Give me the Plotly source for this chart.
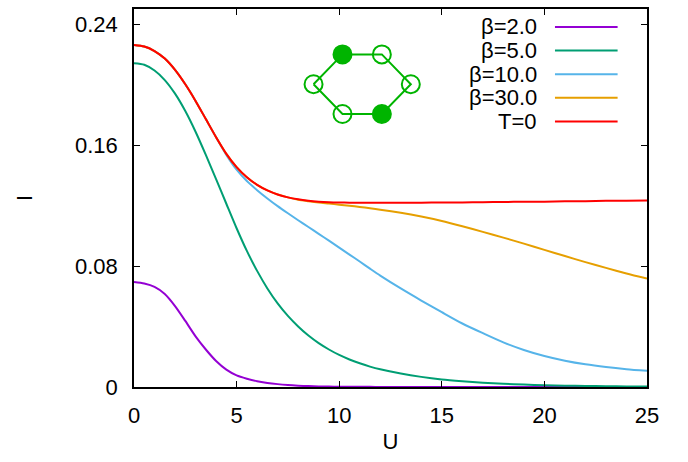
import plotly.graph_objects as go

# ---------------- data ----------------
U = [0, 0.5, 1, 1.5, 2, 2.5, 3, 3.5, 4, 4.5, 5, 5.5, 6, 6.5, 7, 7.5, 8, 8.5, 9,
     9.5, 10, 10.5, 11, 11.5, 12, 13, 14, 15, 16, 17, 18, 19, 20, 21, 22, 23, 24, 25]

I_beta2 = [0.0694, 0.0684, 0.0662, 0.0615, 0.0535, 0.0437, 0.0335, 0.0248, 0.0172,
           0.0115, 0.0077, 0.0055, 0.0038, 0.0027, 0.0019, 0.0013, 0.0009, 0.0006,
           0.0004, 0.0003, 0.0002, 0.0001, 0.0001, 0.0001, 0.0, 0.0, 0.0, 0.0, 0.0,
           0.0, 0.0, 0.0, 0.0, 0.0, 0.0, 0.0, 0.0, 0.0]
I_beta5 = [0.2141, 0.2131, 0.2093, 0.2030, 0.1940, 0.1825, 0.1688, 0.1535, 0.1375,
           0.1212, 0.1050, 0.0900, 0.0768, 0.0652, 0.0553, 0.0470, 0.0400, 0.0340,
           0.0290, 0.0248, 0.0212, 0.0182, 0.0157, 0.0135, 0.0117, 0.0089, 0.0067,
           0.0050, 0.0038, 0.0028, 0.0021, 0.0016, 0.0012, 0.0009, 0.0007, 0.0005,
           0.0004, 0.0003]
I_beta10 = [0.2262, 0.2252, 0.2222, 0.2172, 0.2097, 0.2002, 0.1892, 0.1772, 0.1652,
            0.1535, 0.1437, 0.1362, 0.1302, 0.1247, 0.1196, 0.1149, 0.1103, 0.1058,
            0.1013, 0.0968, 0.0922, 0.0876, 0.0830, 0.0783, 0.0737, 0.0652, 0.0572,
            0.0495, 0.0420, 0.0356, 0.0295, 0.0245, 0.0205, 0.0174, 0.0150, 0.0132,
            0.0118, 0.0107]
I_beta30 = [0.2262, 0.2252, 0.2222, 0.2172, 0.2097, 0.2002, 0.1892, 0.1772, 0.1652,
            0.1542, 0.1454, 0.1387, 0.1337, 0.1300, 0.1273, 0.1254, 0.1239, 0.1229,
            0.1220, 0.1213, 0.1206, 0.1199, 0.1191, 0.1182, 0.1173, 0.1152, 0.1127,
            0.1098, 0.1063, 0.1026, 0.0988, 0.0948, 0.0907, 0.0866, 0.0826, 0.0788,
            0.0751, 0.0717]
I_T0 = [0.2262, 0.2252, 0.2222, 0.2172, 0.2097, 0.2002, 0.1892, 0.1772, 0.1652,
        0.1542, 0.1454, 0.1387, 0.1337, 0.1300, 0.1273, 0.1254, 0.1241, 0.1232,
        0.1226, 0.1222, 0.1220, 0.1219, 0.1218, 0.1218, 0.1218, 0.1219, 0.1219,
        0.1220, 0.1221, 0.1222, 0.1224, 0.1225, 0.1226, 0.1228, 0.1229, 0.1231,
        0.1232, 0.1234]

series_names = ["β=2.0", "β=5.0", "β=10.0", "β=30.0", "T=0"]
series_values = [I_beta2, I_beta5, I_beta10, I_beta30, I_T0]
series_colors = ["#9400D3", "#009E73", "#56B4E9", "#E69F00", "#FF0000"]

x_ticks = [0, 5, 10, 15, 20, 25]
y_ticks = [0, 0.08, 0.16, 0.24]
y_ticktext = ["0", "0.08", "0.16", "0.24"]

# inset: six-site ring (pixel-like units), filled = occupied sites
ring_x = [-48.7, -19.7, 19.7, 48.7, 19.7, -19.7]
ring_y = [0, 30, 30, 0, -30, -30]
ring_filled = [False, True, False, False, True, False]
ring_color = "#00B400"

FONT = "Liberation Sans, Arial, Helvetica, sans-serif"

fig = go.Figure()

for name, vals, col in zip(series_names, series_values, series_colors):
    fig.add_trace(go.Scatter(x=U, y=vals, mode="lines", name=name,
                             line=dict(color=col, width=2, shape="spline", smoothing=0.7),
                             showlegend=False, hoverinfo="skip"))

# inset ring
fig.add_trace(go.Scatter(x=ring_x + ring_x[:1], y=ring_y + ring_y[:1], mode="lines",
                         line=dict(color=ring_color, width=2), xaxis="x2", yaxis="y2",
                         showlegend=False, hoverinfo="skip"))
fx = [x for x, f in zip(ring_x, ring_filled) if f]
fy = [y for y, f in zip(ring_y, ring_filled) if f]
ox = [x for x, f in zip(ring_x, ring_filled) if not f]
oy = [y for y, f in zip(ring_y, ring_filled) if not f]
fig.add_trace(go.Scatter(x=fx, y=fy, mode="markers", xaxis="x2", yaxis="y2",
                         marker=dict(symbol="circle", size=18, color=ring_color,
                                     line=dict(color=ring_color, width=2)),
                         showlegend=False, hoverinfo="skip"))
fig.add_trace(go.Scatter(x=ox, y=oy, mode="markers", xaxis="x2", yaxis="y2",
                         marker=dict(symbol="circle-open", size=18, color=ring_color,
                                     line=dict(color=ring_color, width=2)),
                         showlegend=False, hoverinfo="skip"))

# manual gnuplot-style legend (text right-aligned, line sample to the right)
annotations = []
shapes = []
row0, drow = 0.9527, 0.0625
for i, (name, col) in enumerate(zip(series_names, series_colors)):
    yy = row0 - i * drow
    annotations.append(dict(x=0.790, y=yy, xref="paper", yref="paper", text=name,
                            showarrow=False, xanchor="right", yanchor="middle",
                            font=dict(family=FONT, size=22, color="black")))
    shapes.append(dict(type="line", xref="paper", yref="paper", x0=0.8206, x1=0.9427,
                       y0=yy, y1=yy, line=dict(color=col, width=2)))

axis_common = dict(showline=True, linecolor="black", linewidth=1.5, mirror="ticks",
                   ticks="inside", ticklen=6, tickwidth=1.2, tickcolor="black",
                   showgrid=False, zeroline=False,
                   tickfont=dict(family=FONT, size=22, color="black"))

fig.update_layout(
    width=688, height=462,
    margin=dict(l=134, r=41, t=7, b=75),
    paper_bgcolor="white", plot_bgcolor="white",
    font=dict(family=FONT, size=22, color="black"),
    xaxis=dict(range=[0, 25], tickvals=x_ticks, ticklabelstandoff=8,
               title=dict(text="U", standoff=6, font=dict(family=FONT, size=22)),
               **axis_common),
    yaxis=dict(range=[0, 0.25], tickvals=y_ticks, ticktext=y_ticktext, ticklabelstandoff=10,
               title=dict(text="I", standoff=36, font=dict(family=FONT, size=22)),
               **axis_common),
    xaxis2=dict(domain=[0.3241, 0.5655], range=[-62, 62], visible=False, fixedrange=True),
    yaxis2=dict(domain=[0.688, 0.914], range=[-43, 43], visible=False, fixedrange=True),
    annotations=annotations,
    shapes=shapes,
    showlegend=False,
)

fig.write_html("out.html")
